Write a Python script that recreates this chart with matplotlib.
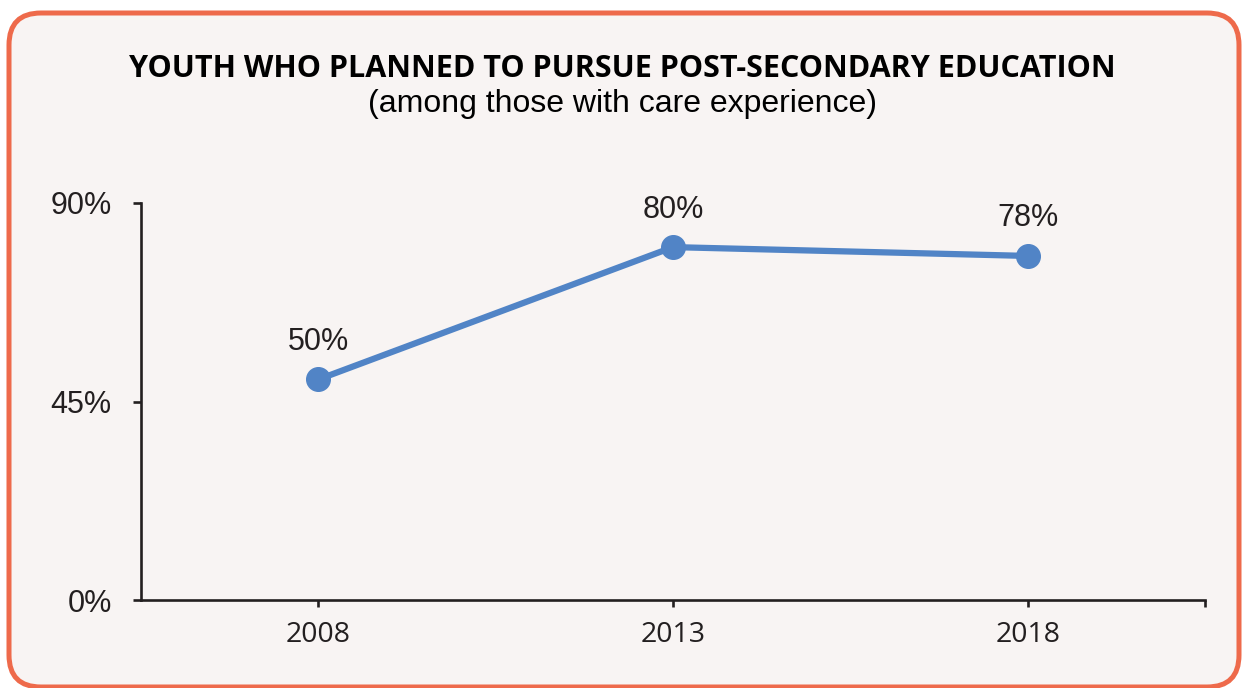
import matplotlib.pyplot as plt
from matplotlib.patches import FancyBboxPatch
from matplotlib.transforms import IdentityTransform

# data
years = ["2008", "2013", "2018"]
pct = [50, 80, 78]
y_ticks = [0, 45, 90]

title = "YOUTH WHO PLANNED TO PURSUE POST-SECONDARY EDUCATION"
subtitle = "(among those with care experience)"

ink = "#231F20"
blue = "#5184C6"
orange = "#EE6A4B"
panel = "#F8F4F3"

fig = plt.figure(figsize=(12.45, 6.88), dpi=100)
fig.patch.set_facecolor("white")

# rounded card behind everything (pixel coords)
card = FancyBboxPatch((9, 1), 1230, 674,
                      boxstyle="round,pad=0,rounding_size=32",
                      transform=IdentityTransform(),
                      facecolor=panel, edgecolor=orange, linewidth=3.6,
                      zorder=-10)
fig.patches.append(card)

fig.text(0.5, 1 - 69 / 688, title, ha="center", va="center",
         fontfamily="Open Sans", fontweight="bold", fontsize=22, color="black")
fig.text(0.5, 1 - 104 / 688, subtitle, ha="center", va="center",
         fontfamily="Liberation Sans", fontsize=23, color="black")

ax = fig.add_axes([141 / 1245, 1 - 600 / 688, 1064 / 1245, 397 / 688])
ax.set_facecolor("none")
ax.set_zorder(1)

x = list(range(len(years)))
ax.plot(x, pct, color=blue, linewidth=4.5, marker="o", markersize=17,
        solid_capstyle="round", clip_on=False, zorder=3)

for xi, v in zip(x, pct):
    ax.annotate(f"{v}%", (xi, v), xytext=(0, 27), textcoords="offset points",
                ha="center", va="center", fontsize=22,
                fontfamily="Liberation Sans", color=ink)

ax.set_xlim(-0.5, 2.5)
ax.set_ylim(0, 90)

ax.set_xticks(x)
ax.set_xticklabels(years, fontfamily="Open Sans", fontsize=20.5, color=ink)
ax.set_xticks([2.5], minor=True)
ax.set_yticks(y_ticks)
ax.set_yticklabels([f"{t}%" for t in y_ticks], fontfamily="Liberation Sans",
                   fontsize=22, color=ink)

for side in ["top", "right"]:
    ax.spines[side].set_visible(False)
for side in ["left", "bottom"]:
    ax.spines[side].set_color(ink)
    ax.spines[side].set_linewidth(1.9)

ax.tick_params(axis="x", which="both", direction="out", length=5, width=1.9,
               color=ink, pad=10)
ax.tick_params(axis="y", direction="out", length=6, width=1.9,
               color=ink, pad=15)

fig.savefig("out.png", dpi=100, facecolor="white")
